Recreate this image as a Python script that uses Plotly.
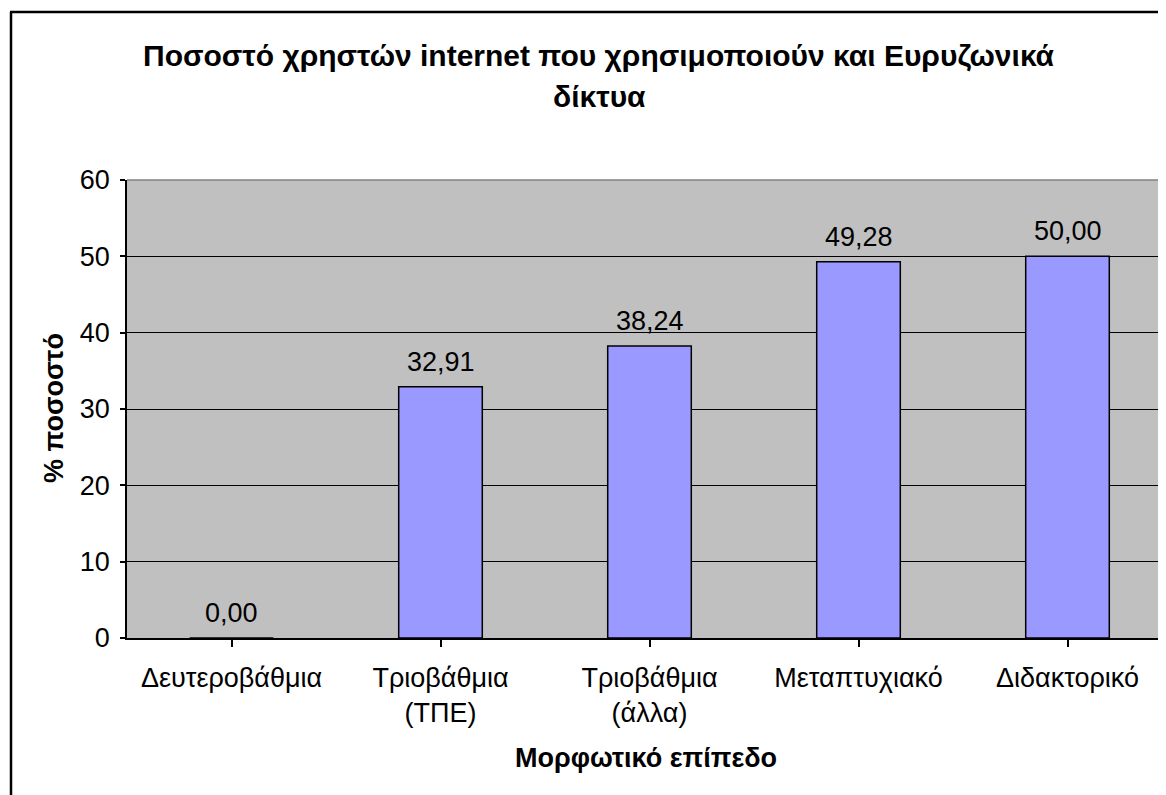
import plotly.graph_objects as go

categories = ["Δευτεροβάθμια", "Τριοβάθμια<br>(ΤΠΕ)", "Τριοβάθμια<br>(άλλα)", "Μεταπτυχιακό", "Διδακτορικό"]
values = [0.00, 32.91, 38.24, 49.28, 50.00]
y_ticks = [0, 10, 20, 30, 40, 50, 60]

title_line1 = "Ποσοστό χρηστών internet που χρησιμοποιούν και Ευρυζωνικά"
title_line2 = "δίκτυα"
x_title = "Μορφωτικό επίπεδο"
y_title = "% ποσοστό"

OFF = 8  # browser body margin
W, H = 1166 - OFF, 795 - OFF
L, T, B, R = 127 - OFF, 180 - OFF, 795 - 638, 0
PW = W - L - R
PH = H - T - B

def px_x(px):
    return (px - OFF - L) / PW

def px_y(py):
    return (H - B - (py - OFF)) / PH

FONT = "Liberation Sans, Arial, sans-serif"

fig = go.Figure()
fig.add_trace(go.Bar(
    x=list(range(len(categories))),
    y=values,
    width=0.4,
    marker=dict(color="#9999FF", line=dict(color="black", width=1.5)),
    hoverinfo="skip",
))

value_labels = [dict(x=i, y=v, xref="x", yref="y", text=f"{v:.2f}".replace(".", ","),
                     showarrow=False, xanchor="center", yanchor="middle", yshift=25,
                     font=dict(family=FONT, size=27, color="black"))
                for i, v in enumerate(values)]

fig.update_layout(
    width=W, height=H,
    margin=dict(l=L, r=R, t=T, b=B),
    paper_bgcolor="white",
    plot_bgcolor="#C0C0C0",
    separators=",.",
    showlegend=False,
    font=dict(family=FONT, size=27, color="black"),
    xaxis=dict(
        range=[-0.5, -0.5 + PW / 209],
        tickmode="array",
        tickvals=list(range(len(categories))),
        ticktext=categories,
        showgrid=False,
        zeroline=False,
        showline=True, linecolor="black", linewidth=1.5,
        ticks="outside", ticklen=7, tickcolor="black", tickwidth=1.5,
        ticklabelstandoff=8,
        tickfont=dict(family=FONT, size=27, color="black"),
    ),
    yaxis=dict(
        range=[0, 60],
        tickvals=y_ticks,
        showgrid=True, gridcolor="black", gridwidth=1.2,
        zeroline=False,
        showline=True, linecolor="black", linewidth=1.5,
        ticks="outside", ticklen=5, tickcolor="black", tickwidth=1.5,
        ticklabelstandoff=5,
        tickfont=dict(family=FONT, size=27, color="black"),
    ),
)

fig.update_xaxes(tickson="boundaries")

annotations = value_labels + [
    dict(text="<b>" + title_line1 + "</b>", x=px_x(599), y=px_y(55), xref="paper", yref="paper",
         showarrow=False, xanchor="center", yanchor="middle",
         font=dict(family=FONT, size=30, color="black")),
    dict(text="<b>" + title_line2 + "</b>", x=px_x(599), y=px_y(97), xref="paper", yref="paper",
         showarrow=False, xanchor="center", yanchor="middle",
         font=dict(family=FONT, size=30, color="black")),
    dict(text="<b>" + x_title + "</b>", x=px_x(646), y=px_y(758), xref="paper", yref="paper",
         showarrow=False, xanchor="center", yanchor="middle",
         font=dict(family=FONT, size=27, color="black")),
    dict(text="<b>" + y_title + "</b>", x=px_x(54), y=px_y(408), xref="paper", yref="paper",
         showarrow=False, xanchor="center", yanchor="middle", textangle=-90,
         font=dict(family=FONT, size=27, color="black")),
]
fig.update_layout(annotations=annotations)

shapes = [
    dict(type="line", xref="paper", yref="paper", x0=px_x(11), x1=px_x(11), y0=px_y(12), y1=px_y(820),
         line=dict(color="black", width=2.5)),
    dict(type="line", xref="paper", yref="paper", x0=px_x(10), x1=px_x(1200), y0=px_y(12), y1=px_y(12),
         line=dict(color="black", width=2.5)),
    dict(type="line", xref="paper", yref="paper", x0=0, x1=1, y0=1, y1=1,
         line=dict(color="#808080", width=1.5), layer="above"),
]
fig.update_layout(shapes=shapes)

fig.write_html("out.html")
